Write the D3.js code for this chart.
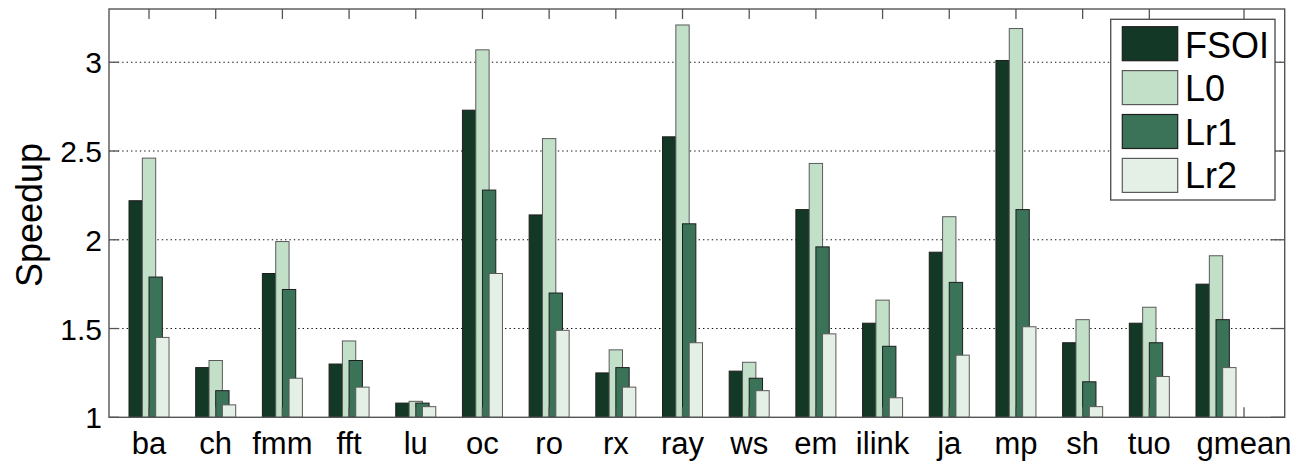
<!DOCTYPE html>
<html>
<head>
<meta charset="utf-8">
<script src="https://cdn.jsdelivr.net/npm/d3@7/dist/d3.min.js"></script>
<style>
  body { margin: 0; background: #fff; }
  svg { display: block; font-family: "Liberation Sans", Arial, sans-serif; }
</style>
</head>
<body>
<script>
// benchmarks along the x axis
var categories = ["ba","ch","fmm","fft","lu","oc","ro","rx","ray","ws","em","ilink","ja","mp","sh","tuo","gmean"];
// where each label/tick sits (gmean label is shifted right in the original)
var tickPos = [1,2,3,4,5,6,7,8,9,10,11,12,13,14,15,16,17.42];

var seriesNames = ["FSOI","L0","Lr1","Lr2"];
var fsoi = [2.22,1.28,1.81,1.30,1.08,2.73,2.14,1.25,2.58,1.26,2.17,1.53,1.93,3.01,1.42,1.53,1.75];
var l0   = [2.46,1.32,1.99,1.43,1.09,3.07,2.57,1.38,3.21,1.31,2.43,1.66,2.13,3.19,1.55,1.62,1.91];
var lr1  = [1.79,1.15,1.72,1.32,1.08,2.28,1.70,1.28,2.09,1.22,1.96,1.40,1.76,2.17,1.20,1.42,1.55];
var lr2  = [1.45,1.07,1.22,1.17,1.06,1.81,1.49,1.17,1.42,1.15,1.47,1.11,1.35,1.51,1.06,1.23,1.28];
var yTicks = [1,1.5,2,2.5,3];

var allSeries = [fsoi, l0, lr1, lr2];
var colors = ["#143826","#c2dfc8","#3b7358","#e4f0e6"];
var barOffset = [-0.2, 0, 0.1, 0.2];   // in category units (bars overlap like the original)
var barW = 0.2;

var W = 1296, H = 461;
var pLeft = 109, pRight = 1284.7, pTop = 9, pBottom = 417.3;

var svg = d3.select("body").append("svg")
    .attr("width", W)
    .attr("height", H);

var x = d3.scaleLinear().domain([0.4, 18.03]).range([pLeft, pRight]);
var y = d3.scaleLinear().domain([1, 3.3]).range([pBottom, pTop]);

// grid lines (dotted)
svg.append("g").selectAll("line")
    .data(yTicks.slice(1))
    .enter().append("line")
    .attr("x1", pLeft).attr("x2", pRight)
    .attr("y1", function (d) { return y(d); })
    .attr("y2", function (d) { return y(d); })
    .attr("stroke", "#111")
    .attr("stroke-width", 1.1)
    .attr("stroke-dasharray", "1.4,3");

// bars, series drawn in order so later ones overlap earlier
allSeries.forEach(function (vals, s) {
    svg.append("g").selectAll("rect")
        .data(vals)
        .enter().append("rect")
        .attr("x", function (d, i) { return x(i + 1 + barOffset[s] - barW / 2); })
        .attr("width", function () { return x(barW) - x(0); })
        .attr("y", function (d) { return y(d); })
        .attr("height", function (d) { return y(1) - y(d); })
        .attr("fill", colors[s])
        .attr("stroke", s === 0 || s === 2 ? "#1e1e1e" : "#5a5a5a")
        .attr("stroke-width", 1);
});

// axes box
var axisColor = "#555";
svg.append("rect")
    .attr("x", pLeft).attr("y", pTop)
    .attr("width", pRight - pLeft).attr("height", pBottom - pTop)
    .attr("fill", "none")
    .attr("stroke", axisColor)
    .attr("stroke-width", 1.4);

// x ticks on top and bottom edges, pointing in
var xt = svg.append("g");
tickPos.forEach(function (p) {
    xt.append("line").attr("x1", x(p)).attr("x2", x(p))
        .attr("y1", pTop).attr("y2", pTop + 10)
        .attr("stroke", axisColor).attr("stroke-width", 1.3);
    xt.append("line").attr("x1", x(p)).attr("x2", x(p))
        .attr("y1", pBottom).attr("y2", pBottom - 10)
        .attr("stroke", axisColor).attr("stroke-width", 1.3);
});

// y ticks on left and right
yTicks.forEach(function (v) {
    xt.append("line").attr("x1", pLeft).attr("x2", pLeft + 10)
        .attr("y1", y(v)).attr("y2", y(v))
        .attr("stroke", axisColor).attr("stroke-width", 1.3);
    xt.append("line").attr("x1", pRight - 14).attr("x2", pRight)
        .attr("y1", y(v)).attr("y2", y(v))
        .attr("stroke", axisColor).attr("stroke-width", 1.3);
});

// x labels
svg.append("g").selectAll("text")
    .data(categories)
    .enter().append("text")
    .attr("x", function (d, i) { return x(tickPos[i]); })
    .attr("y", 454)
    .attr("text-anchor", "middle")
    .attr("font-size", 31)
    .attr("fill", "#000")
    .text(function (d) { return d; });

// y labels
svg.append("g").selectAll("text")
    .data(yTicks)
    .enter().append("text")
    .attr("x", pLeft - 7)
    .attr("y", function (d) { return y(d); })
    .attr("dy", "0.37em")
    .attr("text-anchor", "end")
    .attr("font-size", 30)
    .attr("fill", "#000")
    .text(function (d) { return d; });

svg.append("text")
    .attr("transform", "translate(42,215) rotate(-90)")
    .attr("text-anchor", "middle")
    .attr("font-size", 36)
    .attr("fill", "#000")
    .text("Speedup");

// legend
var lg = svg.append("g");
lg.append("rect")
    .attr("x", 1110.7).attr("y", 19.3)
    .attr("width", 164.3).attr("height", 180.7)
    .attr("fill", "#fff")
    .attr("stroke", axisColor)
    .attr("stroke-width", 1.4);

seriesNames.forEach(function (name, i) {
    lg.append("rect")
        .attr("x", 1122.3).attr("y", 26.7 + i * 43.9)
        .attr("width", 55.4).attr("height", 34)
        .attr("fill", colors[i])
        .attr("stroke", i === 0 || i === 2 ? "#1e1e1e" : "#5a5a5a")
        .attr("stroke-width", 1.2);
    lg.append("text")
        .attr("x", 1185)
        .attr("y", 57.5 + i * 43.6)
        .attr("font-size", 36)
        .attr("fill", "#000")
        .text(name);
});
</script>
</body>
</html>
